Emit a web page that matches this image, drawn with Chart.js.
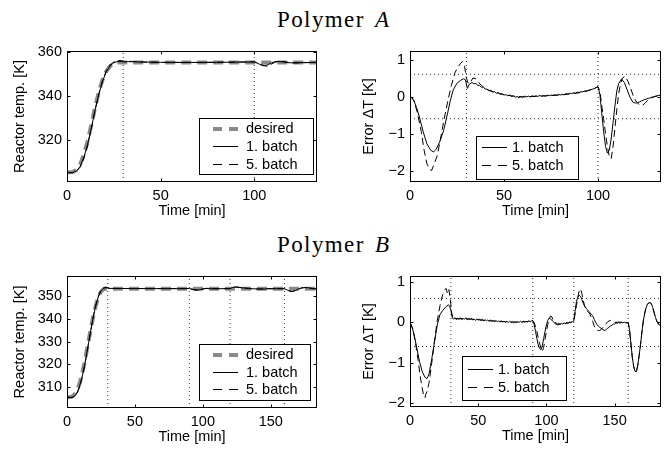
<!DOCTYPE html>
<html><head><meta charset="utf-8">
<script src="https://cdn.jsdelivr.net/npm/chart.js@4"></script>
<style>
html,body{margin:0;padding:0;background:#fff;}
#wrap{position:relative;width:665px;height:451px;overflow:hidden;background:#fff;}
canvas{position:absolute;left:0;top:0;}
.ttl{position:absolute;font-family:"Liberation Serif","Times New Roman",serif;font-size:23px;line-height:23px;letter-spacing:1.4px;white-space:nowrap;color:#000;transform:translateX(-50%);}
.ttl i{letter-spacing:0;padding-left:3px;}
</style></head><body>
<div id="wrap">
<div class="ttl" style="left:333px;top:8px">Polymer <i>A</i></div>
<div class="ttl" style="left:333px;top:233px">Polymer <i>B</i></div>
<canvas id="c1" width="665" height="451"></canvas>
<canvas id="c2" width="665" height="451"></canvas>
<canvas id="c3" width="665" height="451"></canvas>
<canvas id="c4" width="665" height="451"></canvas>
</div>
<script>
// ---------- DATA ----------
const legendLabels = ['desired', '1. batch', '5. batch'];
const xTicksA = [0, 50, 100];
const xTicksB = [0, 50, 100, 150];
const yTicksTempA = [320, 340, 360];
const yTicksTempB = [310, 320, 330, 340, 350];
const yTicksErr = [-2, -1, 0, 1];
const xRangeA = [0, 133.5];
const xRangeB = [0, 184];
const yRangeTempA = [301, 360.5];
const yRangeTempB = [300.7, 359];
const yRangeErrA = [-2.31, 1.23];
const yRangeErrB = [-2.11, 1.16];
const phasesA = [30, 100];
const phasesB = [30, 90, 120, 160];
const tolBand = [-0.6, 0.6];

// Polymer A: reactor temperature [time, K]
const tempA_desired = [[0,305.3],[3,305.5],[5,306.5],[7,309],[9,313.5],[11,319.5],[13,327],[15,335],[17,342],[19,347.5],[21,351.3],[23,353.6],[25,354.8],[27,355.3],[133.5,355.3]];
const tempA_batch1 = [[0,305.3],[3,305.25],[5,305.95],[7,308.05],[9,312.2],[11,318.05],[13,325.55],[15,333.7],[17,340.95],[19,346.8],[21,351.1],[23,353.78],[25,355.16],[27,355.74],[29,355.77],[31,355.58],[33,355.68],[40,355.5],[50,355.34],[60,355.28],[80,355.34],[95,355.47],[100,355.57],[102,354.85],[104,353.95],[105,353.77],[107,354.15],[109,355.05],[111,355.65],[112.5,355.77],[115,355.55],[118,355.2],[120,355.12],[125,355.22],[133.5,355.33]];
const tempA_batch5 = [[0,305.3],[3,305.25],[5,305.8],[7,307.7],[9,311.68],[11,317.52],[13,325.2],[15,333.55],[17,341.05],[19,347.1],[21,351.5],[23,354.15],[25,355.58],[27,356.2],[29,356.12],[31,355.65],[34,355.8],[40,355.52],[50,355.35],[70,355.31],[100,355.56],[102,355.05],[104,354.3],[106,353.68],[107,353.62],[109,354.45],[111,355.38],[113,355.8],[115,355.8],[118,355.4],[122,355.08],[126,355.18],[133.5,355.33]];

// Polymer A: error [time, K]
const errA_batch1 = [[0,0],[1,-0.03],[2,-0.1],[3.5,-0.3],[5,-0.55],[7,-0.95],[9,-1.28],[11,-1.45],[12.5,-1.5],[14,-1.42],[16,-1.2],[18,-0.9],[20,-0.45],[21.5,-0.1],[23,0.18],[25,0.36],[27,0.44],[28.5,0.48],[29.5,0.45],[30.5,0.22],[31.5,0.33],[33,0.38],[34,0.34],[35,0.36],[36,0.3],[37,0.3],[38,0.25],[39,0.26],[40,0.2],[41,0.2],[42,0.16],[43,0.17],[44,0.12],[45,0.13],[46,0.09],[47,0.1],[48,0.06],[49,0.07],[50,0.04],[51,0.05],[52,0.02],[53,0.04],[54,0.0],[55,0.02],[56,-0.02],[57,0.0],[58,-0.03],[59,0.0],[60,-0.02],[61,0.01],[62,-0.01],[63,0.01],[64,-0.01],[65,0.02],[66,0.0],[67,0.02],[68,0.0],[69,0.03],[70,0.01],[71,0.03],[72,0.01],[73,0.04],[74,0.02],[75,0.04],[76,0.03],[77,0.05],[78,0.03],[79,0.06],[80,0.04],[81,0.06],[82,0.05],[83,0.08],[84,0.06],[85,0.09],[86,0.08],[87,0.1],[88,0.09],[89,0.12],[90,0.11],[91,0.13],[92,0.13],[93,0.15],[94,0.15],[95,0.17],[96,0.18],[97,0.2],[98,0.21],[99,0.24],[100,0.27],[101,0.05],[102,-0.45],[103,-0.95],[104,-1.35],[105,-1.53],[106,-1.45],[107,-1.15],[108,-0.7],[109,-0.25],[110,0.15],[111,0.35],[112.5,0.47],[114,0.38],[115.5,0.18],[117,-0.02],[118.5,-0.15],[120,-0.18],[121,-0.16],[122,-0.15],[123,-0.12],[124,-0.1],[125,-0.08],[126,-0.06],[127,-0.05],[128,-0.03],[129,-0.03],[130,0.0],[131,0.01],[132,0.03],[133.5,0.03]];
const errA_batch5 = [[0,0],[2,-0.1],[4,-0.45],[6,-0.95],[7.5,-1.45],[9,-1.82],[10.5,-1.97],[11.5,-2.0],[13,-1.8],[14.5,-1.6],[16,-1.2],[18,-0.65],[20,-0.15],[22,0.3],[24,0.65],[25.5,0.8],[27,0.9],[28,0.95],[29,0.82],[30,0.5],[31,0.35],[32,0.38],[33.5,0.5],[35,0.48],[36.5,0.38],[38,0.3],[40,0.22],[42,0.16],[45,0.12],[50,0.05],[55,0.01],[60,-0.01],[70,0.01],[80,0.04],[90,0.1],[95,0.16],[100,0.26],[101,0.15],[102,-0.25],[103,-0.6],[104,-1.0],[105,-1.35],[106,-1.62],[107,-1.68],[108,-1.35],[109,-0.85],[110,-0.35],[111,0.08],[112,0.35],[113,0.5],[114.5,0.55],[116,0.4],[117.5,0.2],[119,-0.02],[120.5,-0.15],[122,-0.22],[123.5,-0.25],[125,-0.18],[126.5,-0.1],[128,-0.03],[130,0.0],[132,0.02],[133.5,0.03]];

// Polymer B: reactor temperature [time, K]
const tempB_desired = [[0,305.5],[3,305.6],[5,306.3],[7,308],[9,311],[11,315.5],[13,321],[15,327.5],[17,334],[19,340.2],[21,345.5],[23,349.5],[25,352.1],[27,353.2],[29,353.4],[184,353.4]];
const tempB_batch1 = [[0,305.5],[3,305.3],[5,305.66],[7,307.02],[9,309.77],[11,314.13],[13,319.64],[15,326.4],[17,333.3],[19,339.93],[21,345.57],[23,349.75],[25,352.44],[27,353.61],[29,353.82],[31,353.52],[40,353.48],[60,353.43],[80,353.4],[90,353.45],[93,353.0],[95,352.75],[96,352.72],[98,353.0],[100,353.34],[102,353.51],[106,353.39],[115,353.4],[120,353.43],[122,353.92],[124,354.08],[126,353.97],[130,353.72],[134,353.56],[137,353.35],[143,353.2],[148,353.33],[155,353.41],[160,353.39],[162,352.85],[164,352.3],[166,352.17],[168,352.58],[170,353.16],[172,353.62],[174,353.85],[176,353.9],[178,353.77],[180,353.52],[182,353.37],[184,353.3]];
const tempB_batch5 = [[0,305.5],[2,305.4],[4,305.4],[6,306.15],[8,307.9],[10,311.38],[12,316.45],[14,322.7],[16,329.7],[18,336.65],[20,343.05],[22,348.02],[24,351.6],[26,353.55],[28,354.1],[30,353.8],[32,353.5],[50,353.47],[90,353.44],[95,352.88],[97,352.68],[99,352.98],[101,353.35],[103,353.56],[106,353.38],[120,353.43],[123,354.03],[125,354.24],[127,353.95],[130,353.68],[134,353.42],[138,353.2],[142,353.3],[147,353.45],[160,353.39],[162,352.85],[164,352.3],[166,352.17],[168,352.58],[170,353.16],[172,353.62],[174,353.85],[176,353.9],[178,353.77],[180,353.52],[182,353.37],[184,353.3]];

// Polymer B: error [time, K]
const errB_batch1 = [[0,0],[1.5,-0.12],[3,-0.3],[5,-0.64],[7,-0.98],[9,-1.23],[11,-1.37],[12.5,-1.4],[14,-1.28],[16,-0.9],[18,-0.48],[20,-0.06],[22,0.2],[24,0.3],[26,0.38],[28,0.44],[29,0.42],[30,0.3],[31,0.12],[32,0.08],[33,0.12],[34,0.07],[35,0.11],[36,0.08],[37,0.12],[38,0.07],[39,0.1],[40,0.08],[41,0.12],[42,0.06],[43,0.1],[44,0.07],[45,0.11],[46,0.06],[47,0.09],[48,0.05],[49,0.09],[50,0.06],[51,0.08],[52,0.05],[53,0.08],[54,0.04],[55,0.07],[56,0.04],[57,0.06],[58,0.03],[59,0.06],[60,0.03],[61,0.05],[62,0.02],[63,0.05],[64,0.02],[65,0.04],[66,0.01],[67,0.04],[68,0.01],[69,0.03],[70,0.0],[71,0.03],[72,0.0],[73,0.03],[74,0.0],[75,0.02],[76,-0.01],[77,0.02],[78,0.0],[79,0.02],[80,0.0],[81,0.03],[82,0.0],[83,0.03],[84,0.01],[85,0.03],[86,0.01],[87,0.04],[88,0.02],[89,0.04],[90,0.05],[91,-0.05],[92,-0.22],[93,-0.4],[94,-0.56],[95,-0.65],[96,-0.68],[97,-0.58],[98,-0.4],[99,-0.22],[100,-0.06],[101,0.05],[102,0.11],[103,0.09],[104,0.06],[105,0.02],[106,-0.01],[107,0.0],[108,-0.04],[109,-0.02],[110,-0.05],[111,-0.02],[112,-0.04],[113,-0.01],[114,-0.03],[115,0.0],[116,-0.02],[117,0.01],[118,0.0],[119,0.02],[120,0.03],[121,0.28],[122,0.52],[123,0.63],[124,0.68],[125,0.65],[126,0.57],[127,0.48],[128,0.41],[129,0.36],[130,0.32],[131,0.28],[132,0.24],[133,0.2],[134,0.16],[135,0.08],[136,0.01],[137,-0.05],[138,-0.09],[139,-0.12],[140,-0.14],[141,-0.17],[142,-0.19],[143,-0.2],[144,-0.17],[145,-0.14],[146,-0.12],[147,-0.08],[148,-0.07],[149,-0.04],[150,-0.04],[151,-0.01],[152,-0.02],[153,0.0],[154,-0.02],[155,0.01],[156,-0.01],[157,0.01],[158,-0.01],[159,0.0],[160,-0.01],[161,-0.2],[162,-0.55],[163,-0.88],[164,-1.1],[165,-1.22],[166,-1.23],[167,-1.06],[168,-0.82],[169,-0.55],[170,-0.24],[171,0.03],[172,0.22],[173,0.36],[174,0.45],[175,0.49],[176,0.5],[177,0.46],[178,0.37],[179,0.24],[180,0.12],[181,0.03],[182,-0.03],[183,-0.07],[184,-0.1]];
const errB_batch5 = [[0,0],[2,-0.15],[4,-0.5],[6,-0.95],[7.5,-1.35],[9,-1.65],[10,-1.82],[11,-1.88],[11.5,-1.8],[12.5,-1.72],[14,-1.5],[16,-1.0],[18,-0.45],[20,0.05],[22,0.42],[24,0.7],[25.5,0.82],[26.5,0.85],[27.5,0.72],[28.5,0.82],[29.5,0.6],[30.5,0.25],[31.5,0.1],[33,0.1],[36,0.09],[40,0.1],[45,0.08],[50,0.07],[55,0.05],[60,0.04],[65,0.03],[70,0.02],[75,0.01],[80,0.01],[85,0.02],[90,0.04],[91,0.0],[92,-0.1],[93,-0.22],[94,-0.38],[95,-0.52],[96,-0.64],[97,-0.72],[98,-0.62],[99,-0.42],[100,-0.22],[101,-0.05],[102,0.08],[103,0.16],[104,0.14],[105,0.05],[106,-0.02],[108,-0.06],[110,-0.04],[113,-0.03],[116,-0.01],[119,0.01],[120,0.03],[121,0.2],[122,0.42],[123,0.63],[124,0.78],[125,0.84],[126,0.72],[127,0.55],[128,0.42],[129,0.32],[130,0.28],[131,0.25],[132,0.2],[133,0.12],[134,0.02],[135,-0.08],[136,-0.15],[137,-0.19],[138,-0.2],[139,-0.2],[140,-0.18],[141,-0.14],[142,-0.1],[143,-0.06],[144,-0.02],[145,0.02],[146,0.04],[147,0.05],[148,0.03],[150,0.0],[153,0.01],[156,0.0],[160,-0.01],[161,-0.2],[162,-0.55],[163,-0.88],[164,-1.1],[165,-1.22],[166,-1.23],[167,-1.06],[168,-0.82],[169,-0.55],[170,-0.24],[171,0.03],[172,0.22],[173,0.36],[174,0.45],[175,0.49],[176,0.5],[177,0.46],[178,0.37],[179,0.24],[180,0.12],[181,0.03],[182,-0.03],[183,-0.07],[184,-0.1]];

// ---------- RENDERING ----------
const FONT = {family: '"Liberation Sans", Arial, Helvetica, sans-serif', size: 14.5};
const toXY = arr => arr.map(p => ({x: p[0], y: p[1]}));
const minus = v => String(v).replace('-', '\u2212');

const STY = {
  desired: {borderColor: '#8a8a8a', borderWidth: 4, borderDash: [10, 6], legendDash: [9, 7], order: 5},
  b1: {borderColor: '#000', borderWidth: 1, borderDash: [], legendDash: [], order: 2},
  b5: {borderColor: '#000', borderWidth: 1, borderDash: [7, 4], legendDash: [9, 7], order: 1}
};

const framePlugin = {
  id: 'frame',
  afterDraw(chart, args, o) {
    const {ctx, chartArea: a, scales: {x, y}} = chart;
    ctx.save();
    ctx.strokeStyle = '#000';
    ctx.lineWidth = 1;
    ctx.setLineDash([]);
    const L = Math.round(a.left) + 0.5, R = Math.round(a.right) - 0.5;
    const T = Math.round(a.top) + 0.5, B = Math.round(a.bottom) - 0.5;
    ctx.beginPath();
    x.ticks.forEach(t => {
      const p = Math.round(x.getPixelForValue(t.value)) + 0.5;
      ctx.moveTo(p, B); ctx.lineTo(p, B - 3);
      ctx.moveTo(p, T); ctx.lineTo(p, T + 3);
    });
    y.ticks.forEach(t => {
      const p = Math.round(y.getPixelForValue(t.value)) + 0.5;
      ctx.moveTo(L, p); ctx.lineTo(L + 3, p);
      ctx.moveTo(R, p); ctx.lineTo(R - 3, p);
    });
    ctx.stroke();
    ctx.strokeRect(L, T, R - L, B - T);
    // legend box
    if (o && o.box) {
      const [x0, y0, x1, y1] = o.box;
      ctx.fillStyle = '#fff';
      ctx.fillRect(x0, y0, x1 - x0, y1 - y0);
      ctx.strokeStyle = '#000';
      ctx.lineWidth = 1;
      ctx.strokeRect(x0 + 0.5, y0 + 0.5, x1 - x0 - 1, y1 - y0 - 1);
      const items = chart.data.datasets.filter(d => d.inLegend);
      ctx.font = `${FONT.size}px ${FONT.family}`;
      ctx.textBaseline = 'middle';
      ctx.textAlign = 'left';
      items.forEach((d, i) => {
        const ry = o.rows[i];
        const yy = d.borderWidth % 2 === 1 ? Math.floor(ry) + 0.5 : Math.round(ry);
        ctx.beginPath();
        ctx.strokeStyle = d.borderColor;
        ctx.lineWidth = d.borderWidth;
        ctx.setLineDash(d.legendDash || []);
        ctx.moveTo(o.sx[0], yy); ctx.lineTo(o.sx[1], yy);
        ctx.stroke();
        ctx.setLineDash([]);
        ctx.fillStyle = '#000';
        ctx.fillText(d.label, o.tx, ry + 0.5);
      });
    }
    ctx.restore();
  }
};

function build(id, c) {
  const [L, T, R, B] = c.area;
  const XH = 40;
  const padL = c.titleX - FONT.size * 1.2 / 2;
  const ds = [];
  c.series.forEach(s => {
    ds.push(Object.assign({label: s.label, data: toXY(s.data), inLegend: true, pointRadius: 0, fill: false}, STY[s.style]));
  });
  c.vlines.forEach(v => ds.push({label: '_v', data: [{x: v, y: c.yRange[0]}, {x: v, y: c.yRange[1]}], borderColor: '#333', borderWidth: 1, borderDash: [1, 3], pointRadius: 0, order: 20}));
  (c.hlines || []).forEach(h => ds.push({label: '_h', data: [{x: c.xRange[0], y: h}, {x: c.xRange[1], y: h}], borderColor: '#333', borderWidth: 1, borderDash: [1, 3], pointRadius: 0, order: 20}));
  new Chart(document.getElementById(id), {
    type: 'line',
    data: {datasets: ds},
    options: {
      responsive: false, animation: false, events: [],
      layout: {padding: {left: padL, top: T, right: 665 - R, bottom: 451 - B - XH}},
      elements: {line: {tension: 0, borderCapStyle: 'butt'}, point: {radius: 0}},
      plugins: {legend: {display: false}, tooltip: {enabled: false}, frame: c.legend},
      scales: {
        x: {
          type: 'linear', min: c.xRange[0], max: c.xRange[1],
          grid: {display: false, drawTicks: false}, border: {display: false},
          ticks: {font: FONT, color: '#000', padding: 5, maxRotation: 0, autoSkip: false, callback: minus},
          afterBuildTicks: s => { s.ticks = c.xTicks.map(v => ({value: v})); },
          afterFit: s => { s.height = XH; },
          title: {display: true, text: 'Time [min]', font: FONT, color: '#000', padding: {top: 0, bottom: 2}}
        },
        y: {
          type: 'linear', min: c.yRange[0], max: c.yRange[1],
          grid: {display: false, drawTicks: false}, border: {display: false},
          ticks: {font: FONT, color: '#000', padding: 5, autoSkip: false, callback: minus},
          afterBuildTicks: s => { s.ticks = c.yTicks.map(v => ({value: v})); },
          afterFit: s => { s.width = L - padL; },
          title: {display: true, text: c.yTitle, font: FONT, color: '#000', padding: 0}
        }
      }
    },
    plugins: [framePlugin]
  });
}

build('c1', {
  area: [67, 51, 317, 182], titleX: 20, xRange: xRangeA, yRange: yRangeTempA, xTicks: xTicksA, yTicks: yTicksTempA,
  yTitle: 'Reactor temp. [K]',
  series: [{label: legendLabels[0], data: tempA_desired, style: 'desired'}, {label: legendLabels[1], data: tempA_batch1, style: 'b1'}, {label: legendLabels[2], data: tempA_batch5, style: 'b5'}],
  vlines: phasesA,
  legend: {box: [199, 118, 314, 175], rows: [128.5, 146.5, 164], sx: [213, 238], tx: 246}
});
build('c2', {
  area: [410, 51, 661, 182], titleX: 369, xRange: xRangeA, yRange: yRangeErrA, xTicks: xTicksA, yTicks: yTicksErr,
  yTitle: 'Error \u0394T [K]',
  series: [{label: legendLabels[1], data: errA_batch1, style: 'b1'}, {label: legendLabels[2], data: errA_batch5, style: 'b5'}],
  vlines: phasesA, hlines: tolBand,
  legend: {box: [476, 136, 579, 180], rows: [147.5, 165], sx: [482, 507], tx: 512}
});
build('c3', {
  area: [67, 276, 317, 408], titleX: 20, xRange: xRangeB, yRange: yRangeTempB, xTicks: xTicksB, yTicks: yTicksTempB,
  yTitle: 'Reactor temp. [K]',
  series: [{label: legendLabels[0], data: tempB_desired, style: 'desired'}, {label: legendLabels[1], data: tempB_batch1, style: 'b1'}, {label: legendLabels[2], data: tempB_batch5, style: 'b5'}],
  vlines: phasesB,
  legend: {box: [199, 344, 311, 401], rows: [354.5, 372, 389.5], sx: [213, 238], tx: 246}
});
build('c4', {
  area: [410, 276, 661, 407], titleX: 369, xRange: xRangeB, yRange: yRangeErrB, xTicks: xTicksB, yTicks: yTicksErr,
  yTitle: 'Error \u0394T [K]',
  series: [{label: legendLabels[1], data: errB_batch1, style: 'b1'}, {label: legendLabels[2], data: errB_batch5, style: 'b5'}],
  vlines: phasesB, hlines: tolBand,
  legend: {box: [462, 356, 567, 401], rows: [369.5, 387.5], sx: [468, 493], tx: 498}
});
</script>
</body></html>
